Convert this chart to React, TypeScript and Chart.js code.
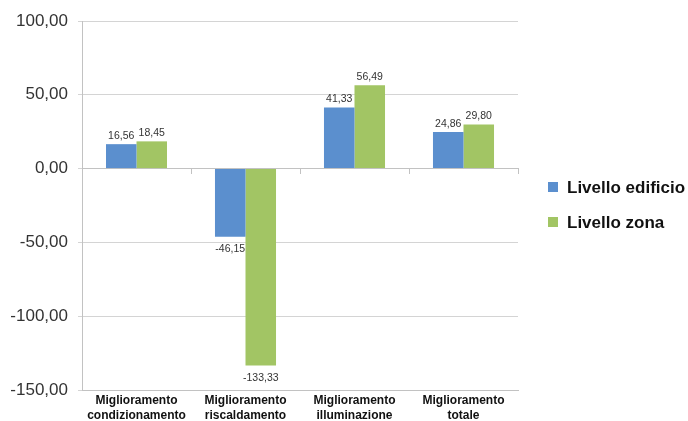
import React, { useEffect, useRef } from "react";
import { Chart, registerables } from "chart.js";

Chart.register(...registerables);

const categories: string[][] = [
  ["Miglioramento", "condizionamento"],
  ["Miglioramento", "riscaldamento"],
  ["Miglioramento", "illuminazione"],
  ["Miglioramento", "totale"],
];
const seriesNames = ["Livello edificio", "Livello zona"];
const edificio = [16.56, -46.15, 41.33, 24.86];
const zona = [18.45, -133.33, 56.49, 29.8];
const yTicks = [-150, -100, -50, 0, 50, 100];

const BLUE = "#5b8fce";
const GREEN = "#a2c564";
const GRID = "#d4d4d4";
const AXIS = "#c2c2c2";
const FONT = "'Liberation Sans', Arial, Helvetica, sans-serif";

const fmt = (v: number) => v.toFixed(2).replace(".", ",");

// Value labels above positive bars and below negative ones
const valueLabels = {
  id: "valueLabels",
  afterDatasetsDraw(chart: any) {
    const ctx = chart.ctx;
    ctx.save();
    ctx.font = `10.5px ${FONT}`;
    ctx.fillStyle = "#333";
    ctx.textAlign = "center";
    chart.data.datasets.forEach((ds: any, di: number) => {
      const meta = chart.getDatasetMeta(di);
      meta.data.forEach((bar: any, i: number) => {
        const v = ds.data[i] as number;
        if (v >= 0) {
          ctx.textBaseline = "bottom";
          ctx.fillText(fmt(v), bar.x, bar.y - 3);
        } else {
          ctx.textBaseline = "top";
          ctx.fillText(fmt(v), bar.x, bar.y + 7);
        }
      });
    });
    ctx.restore();
  },
};

// Legend on the right, one row per series
const sideLegend = {
  id: "sideLegend",
  afterDraw(chart: any) {
    const ctx = chart.ctx;
    const area = chart.chartArea;
    ctx.save();
    ctx.font = `bold 17px ${FONT}`;
    ctx.textBaseline = "middle";
    ctx.textAlign = "left";
    chart.data.datasets.forEach((ds: any, i: number) => {
      const x = area.right + 30;
      const y = 187 + i * 35;
      ctx.fillStyle = ds.backgroundColor;
      ctx.fillRect(x, y - 5, 10, 10);
      ctx.fillStyle = "#111";
      ctx.fillText(ds.label, x + 19, y + 1);
    });
    ctx.restore();
  },
};

export default function App() {
  const canvasRef = useRef<HTMLCanvasElement | null>(null);

  useEffect(() => {
    document.body.style.margin = "0";
    const canvas = canvasRef.current;
    if (!canvas) return;
    const chart = new Chart(canvas, {
      type: "bar",
      data: {
        labels: categories,
        datasets: [
          { label: seriesNames[0], data: edificio, backgroundColor: BLUE },
          { label: seriesNames[1], data: zona, backgroundColor: GREEN },
        ],
      },
      options: {
        animation: false,
        responsive: false,
        devicePixelRatio: 1,
        layout: { padding: { top: 21, right: 170, bottom: 0, left: 0 } },
        datasets: {
          bar: { categoryPercentage: 0.56, barPercentage: 1 },
        },
        plugins: {
          legend: { display: false },
          tooltip: { enabled: false },
        },
        scales: {
          x: {
            type: "category",
            offset: true,
            grid: { display: true, drawOnChartArea: false, drawTicks: false, color: AXIS },
            border: { display: true, color: AXIS, width: 1 },
            ticks: {
              color: "#111",
              padding: 3,
              maxRotation: 0,
              autoSkip: false,
              font: { family: FONT, size: 12, weight: "bold", lineHeight: 1.25 },
            },
            afterFit: (s: any) => {
              s.height = 31;
            },
          },
          xZero: {
            type: "category",
            axis: "x",
            position: { y: 0 },
            offset: true,
            grid: {
              display: true,
              offset: true,
              drawOnChartArea: false,
              drawTicks: true,
              tickLength: 5,
              color: AXIS,
            },
            border: { display: true, color: AXIS, width: 1 },
            ticks: { display: false },
          },
          y: {
            min: -150,
            max: 100,
            afterBuildTicks: (s: any) => {
              s.ticks = yTicks.map((value) => ({ value }));
            },
            grid: {
              color: GRID,
              drawTicks: true,
              tickLength: 4,
            },
            border: { display: true, color: AXIS, width: 1 },
            ticks: {
              color: "#333",
              padding: 10,
              font: { family: FONT, size: 17 },
              callback: (v: any) => fmt(Number(v)),
            },
            afterFit: (s: any) => {
              s.width = 82;
            },
          },
        },
      } as any,
      plugins: [valueLabels, sideLegend],
    });
    return () => chart.destroy();
  }, []);

  return (
    <div style={{ width: 688, height: 421 }}>
      <canvas ref={canvasRef} width={688} height={421} style={{ display: "block" }} />
    </div>
  );
}
